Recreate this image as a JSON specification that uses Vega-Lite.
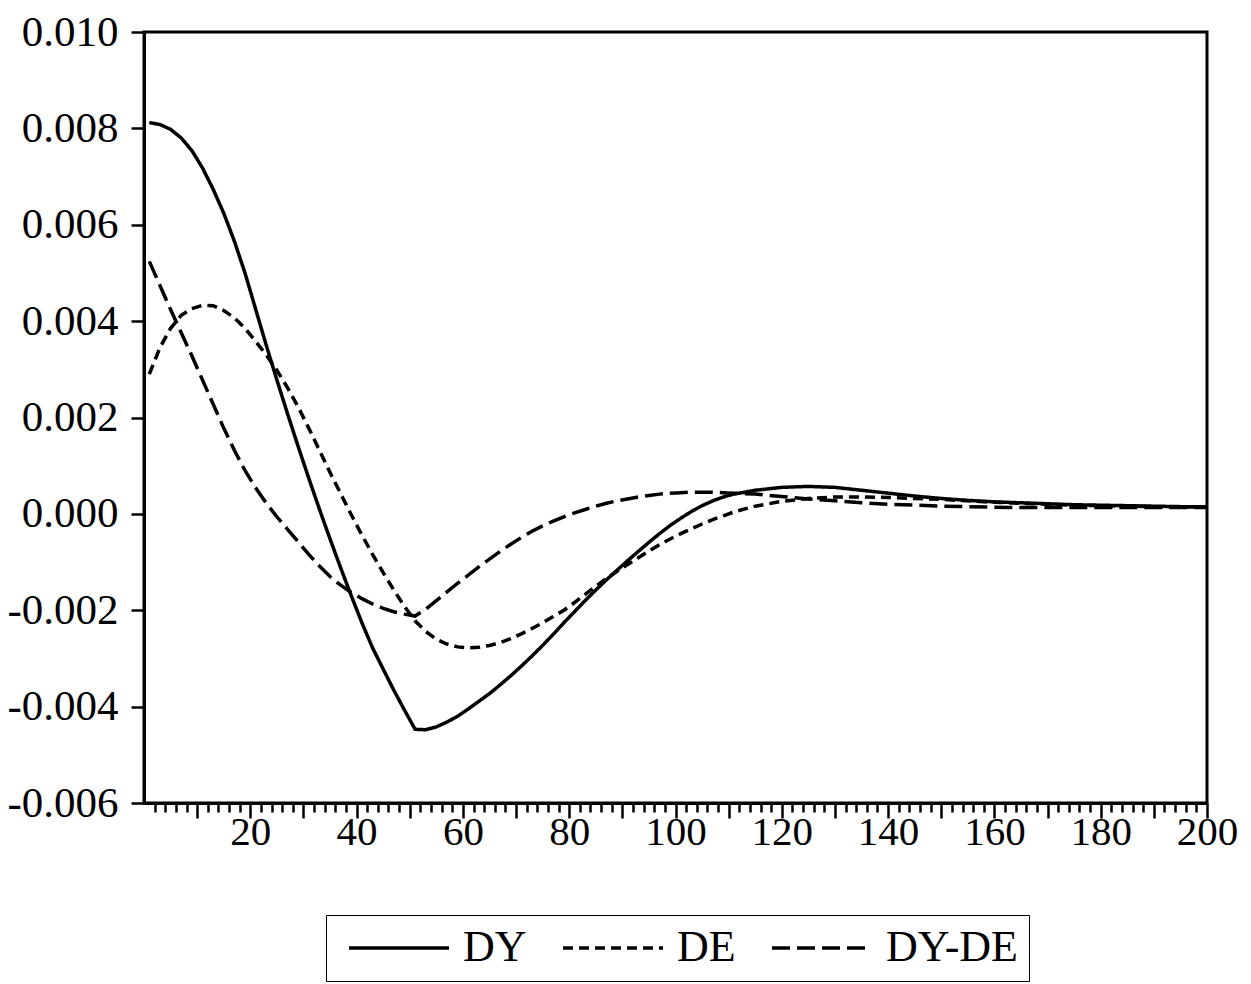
{
  "$schema": "https://vega.github.io/schema/vega-lite/v6.json",
  "autosize": {"type": "none"},
  "width": 1063,
  "height": 771,
  "padding": {"left": 144, "top": 32, "right": 44, "bottom": 181},
  "background": "white",
  "config": {
    "view": {"stroke": "black", "strokeWidth": 3},
    "axis": {
      "grid": false,
      "domainColor": "black",
      "domainWidth": 3,
      "tickColor": "black",
      "tickWidth": 2.5,
      "labelFont": "Liberation Serif",
      "labelColor": "black",
      "title": null
    },
    "legend": {
      "labelFont": "Liberation Serif",
      "labelFontSize": 44,
      "labelColor": "black"
    }
  },
  "data": {
    "values": [
      {"t": 1, "DY": 0.00812, "DE": 0.00290, "DYDE": 0.00524},
      {"t": 3, "DY": 0.00808, "DE": 0.00345, "DYDE": 0.00474},
      {"t": 5, "DY": 0.00798, "DE": 0.00385, "DYDE": 0.00424},
      {"t": 7, "DY": 0.00780, "DE": 0.00412, "DYDE": 0.00376},
      {"t": 9, "DY": 0.00754, "DE": 0.00426, "DYDE": 0.00328},
      {"t": 11, "DY": 0.00718, "DE": 0.00433, "DYDE": 0.00278},
      {"t": 13, "DY": 0.00674, "DE": 0.00432, "DYDE": 0.00228},
      {"t": 15, "DY": 0.00624, "DE": 0.00422, "DYDE": 0.00178},
      {"t": 17, "DY": 0.00566, "DE": 0.00407, "DYDE": 0.00132},
      {"t": 19, "DY": 0.00500, "DE": 0.00385, "DYDE": 0.00090},
      {"t": 21, "DY": 0.00425, "DE": 0.00358, "DYDE": 0.00054},
      {"t": 23, "DY": 0.00350, "DE": 0.00330, "DYDE": 0.00022},
      {"t": 25, "DY": 0.00278, "DE": 0.00298, "DYDE": -0.00006},
      {"t": 27, "DY": 0.00208, "DE": 0.00262, "DYDE": -0.00032},
      {"t": 29, "DY": 0.00140, "DE": 0.00222, "DYDE": -0.00058},
      {"t": 31, "DY": 0.00074, "DE": 0.00178, "DYDE": -0.00084},
      {"t": 33, "DY": 0.00010, "DE": 0.00132, "DYDE": -0.00108},
      {"t": 35, "DY": -0.00052, "DE": 0.00086, "DYDE": -0.00130},
      {"t": 37, "DY": -0.00112, "DE": 0.00042, "DYDE": -0.00148},
      {"t": 39, "DY": -0.00170, "DE": -0.00002, "DYDE": -0.00163},
      {"t": 41, "DY": -0.00226, "DE": -0.00044, "DYDE": -0.00176},
      {"t": 43, "DY": -0.00278, "DE": -0.00084, "DYDE": -0.00187},
      {"t": 45, "DY": -0.00322, "DE": -0.00122, "DYDE": -0.00196},
      {"t": 47, "DY": -0.00366, "DE": -0.00158, "DYDE": -0.00203},
      {"t": 49, "DY": -0.00407, "DE": -0.00192, "DYDE": -0.00208},
      {"t": 51, "DY": -0.00447, "DE": -0.00222, "DYDE": -0.00212},
      {"t": 53, "DY": -0.00448, "DE": -0.00244, "DYDE": -0.00198},
      {"t": 55, "DY": -0.00442, "DE": -0.00260, "DYDE": -0.00180},
      {"t": 57, "DY": -0.00432, "DE": -0.00270, "DYDE": -0.00162},
      {"t": 59, "DY": -0.00420, "DE": -0.00276, "DYDE": -0.00144},
      {"t": 61, "DY": -0.00405, "DE": -0.00278, "DYDE": -0.00127},
      {"t": 63, "DY": -0.00389, "DE": -0.00277, "DYDE": -0.00110},
      {"t": 65, "DY": -0.00373, "DE": -0.00273, "DYDE": -0.00094},
      {"t": 67, "DY": -0.00355, "DE": -0.00267, "DYDE": -0.00078},
      {"t": 69, "DY": -0.00336, "DE": -0.00259, "DYDE": -0.00063},
      {"t": 71, "DY": -0.00316, "DE": -0.00249, "DYDE": -0.00049},
      {"t": 73, "DY": -0.00295, "DE": -0.00238, "DYDE": -0.00036},
      {"t": 75, "DY": -0.00273, "DE": -0.00226, "DYDE": -0.00025},
      {"t": 77, "DY": -0.00250, "DE": -0.00213, "DYDE": -0.00015},
      {"t": 79, "DY": -0.00226, "DE": -0.00200, "DYDE": -0.00006},
      {"t": 81, "DY": -0.00203, "DE": -0.00184, "DYDE": 0.00002},
      {"t": 83, "DY": -0.00180, "DE": -0.00167, "DYDE": 0.00009},
      {"t": 85, "DY": -0.00158, "DE": -0.00150, "DYDE": 0.00016},
      {"t": 87, "DY": -0.00137, "DE": -0.00134, "DYDE": 0.00022},
      {"t": 89, "DY": -0.00117, "DE": -0.00119, "DYDE": 0.00027},
      {"t": 91, "DY": -0.00097, "DE": -0.00105, "DYDE": 0.00031},
      {"t": 93, "DY": -0.00078, "DE": -0.00091, "DYDE": 0.00035},
      {"t": 95, "DY": -0.00059, "DE": -0.00077, "DYDE": 0.00038},
      {"t": 97, "DY": -0.00041, "DE": -0.00064, "DYDE": 0.00041},
      {"t": 99, "DY": -0.00024, "DE": -0.00052, "DYDE": 0.00043},
      {"t": 101, "DY": -0.00009, "DE": -0.00041, "DYDE": 0.00044},
      {"t": 103, "DY": 0.00005, "DE": -0.00031, "DYDE": 0.00045},
      {"t": 105, "DY": 0.00017, "DE": -0.00021, "DYDE": 0.00045},
      {"t": 107, "DY": 0.00027, "DE": -0.00012, "DYDE": 0.00045},
      {"t": 109, "DY": 0.00035, "DE": -0.00004, "DYDE": 0.00044},
      {"t": 111, "DY": 0.00041, "DE": 0.00004, "DYDE": 0.00043},
      {"t": 115, "DY": 0.00049, "DE": 0.00016, "DYDE": 0.00041},
      {"t": 120, "DY": 0.00055, "DE": 0.00026, "DYDE": 0.00036},
      {"t": 125, "DY": 0.00057, "DE": 0.00032, "DYDE": 0.00031},
      {"t": 130, "DY": 0.00055, "DE": 0.00035, "DYDE": 0.00027},
      {"t": 135, "DY": 0.00049, "DE": 0.00035, "DYDE": 0.00023},
      {"t": 140, "DY": 0.00043, "DE": 0.00034, "DYDE": 0.00020},
      {"t": 145, "DY": 0.00037, "DE": 0.00032, "DYDE": 0.00018},
      {"t": 150, "DY": 0.00032, "DE": 0.00030, "DYDE": 0.00016},
      {"t": 155, "DY": 0.00028, "DE": 0.00027, "DYDE": 0.00015},
      {"t": 160, "DY": 0.00025, "DE": 0.00024, "DYDE": 0.00014},
      {"t": 165, "DY": 0.00023, "DE": 0.00022, "DYDE": 0.00013},
      {"t": 170, "DY": 0.00021, "DE": 0.00020, "DYDE": 0.00013},
      {"t": 175, "DY": 0.00019, "DE": 0.00018, "DYDE": 0.00013},
      {"t": 180, "DY": 0.00018, "DE": 0.00017, "DYDE": 0.00013},
      {"t": 185, "DY": 0.00017, "DE": 0.00016, "DYDE": 0.00013},
      {"t": 190, "DY": 0.00016, "DE": 0.00015, "DYDE": 0.00013},
      {"t": 195, "DY": 0.00015, "DE": 0.00015, "DYDE": 0.00013},
      {"t": 200, "DY": 0.00015, "DE": 0.00014, "DYDE": 0.00013}
    ]
  },
  "transform": [{"fold": ["DY", "DE", "DYDE"], "as": ["series", "value"]}],
  "mark": {"type": "line", "stroke": "black", "strokeWidth": 3.5, "clip": true},
  "encoding": {
    "x": {
      "field": "t",
      "type": "quantitative",
      "scale": {"domain": [0, 200], "nice": false, "zero": false},
      "axis": {
        "values": [2,4,6,8,10,12,14,16,18,20,22,24,26,28,30,32,34,36,38,40,42,44,46,48,50,52,54,56,58,60,62,64,66,68,70,72,74,76,78,80,82,84,86,88,90,92,94,96,98,100,102,104,106,108,110,112,114,116,118,120,122,124,126,128,130,132,134,136,138,140,142,144,146,148,150,152,154,156,158,160,162,164,166,168,170,172,174,176,178,180,182,184,186,188,190,192,194,196,198,200],
        "tickSize": {"condition": {"test": "datum.value % 10 === 0", "value": 15}, "value": 9},
        "labelExpr": "datum.value % 20 === 0 ? datum.label : ''",
        "labelFontSize": 41,
        "labelPadding": -6,
        "labelFlush": false,
        "labelOverlap": false
      }
    },
    "y": {
      "field": "value",
      "type": "quantitative",
      "scale": {"domain": [-0.006, 0.010], "nice": false, "zero": false},
      "axis": {
        "values": [-0.006, -0.004, -0.002, 0, 0.002, 0.004, 0.006, 0.008, 0.010],
        "format": ".3f",
        "labelExpr": "replace(datum.label, '\u2212', '-')",
        "labelFontSize": 43,
        "tickSize": 13,
        "labelPadding": 13,
        "labelFlush": false,
        "labelOverlap": false
      }
    },
    "strokeDash": {
      "field": "series",
      "type": "nominal",
      "sort": ["DY", "DE", "DYDE"],
      "scale": {"domain": ["DY", "DE", "DYDE"], "range": [[1, 0], [10, 6], [18, 7]]},
      "legend": {
        "title": null,
        "orient": "none",
        "legendX": 182,
        "legendY": 883,
        "direction": "horizontal",
        "symbolType": "M-1,0H9",
        "symbolSize": 400,
        "symbolStrokeWidth": 3.5,
        "symbolStrokeColor": "black",
        "symbolFillColor": "transparent",
        "strokeColor": "black",
        "padding": 11,
        "columnPadding": 24,
        "labelOffset": 82,
        "labelExpr": "datum.label === 'DYDE' ? 'DY-DE' : datum.label"
      }
    }
  }
}
